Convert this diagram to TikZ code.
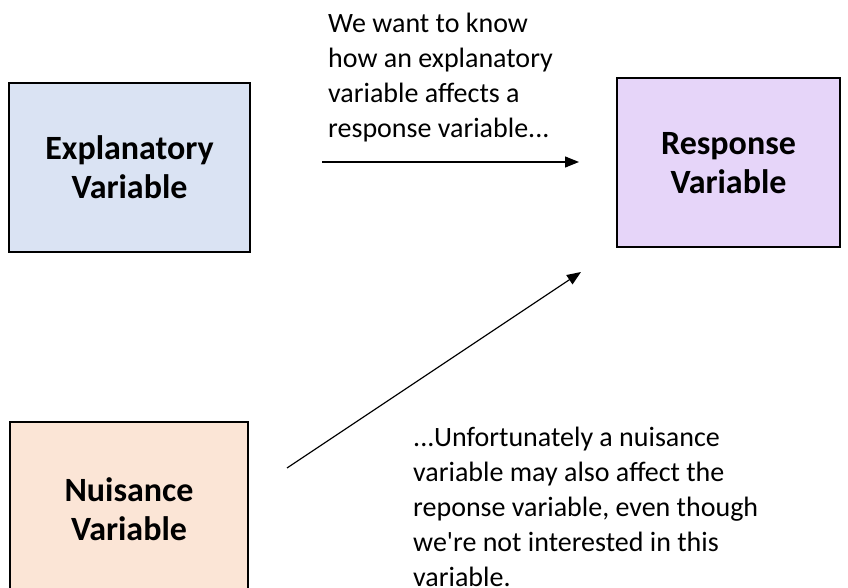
\documentclass[tikz,border=0pt]{standalone}
\usepackage{fontspec}
\setmainfont{Carlito}
\usetikzlibrary{arrows.meta}
\definecolor{explfill}{HTML}{DAE3F3}
\definecolor{respfill}{HTML}{E6D5F9}
\definecolor{nuisfill}{HTML}{FBE5D6}
\tikzset{
  boxline/.style={draw=black, line width=1.8pt},
  boxtext/.style={font=\fontsize{34}{39}\selectfont\bfseries, align=center},
  note/.style={font=\fontsize{28}{35}\selectfont, align=left, anchor=north west, inner sep=0pt},
  conn/.style={line width=1.2pt, -{Triangle[length=14pt,width=11pt]}}
}
\begin{document}
\begin{tikzpicture}[x=1pt,y=-1pt]
\useasboundingbox (0,0) rectangle (848,588);
\begin{scope}
\clip (0,0) rectangle (848,588);
\draw[boxline, fill=explfill] (9,83) rectangle (250,252);
\draw[boxline, fill=respfill] (617,78) rectangle (840,247);
\draw[boxline, fill=nuisfill] (10,422) rectangle (248,596);
\end{scope}
\node[boxtext] (expl) at (129.5,167) {Explanatory\\Variable};
\node[boxtext] (resp) at (728.5,163) {Response\\Variable};
\node[boxtext] (nuis) at (129,509) {Nuisance\\Variable};
\node[note] (n1) at (328,13) {We want to know\\how an explanatory\\variable affects a\\response variable...};
\node[note] (n2) at (413,427) {...Unfortunately a nuisance\\variable may also affect the\\reponse variable, even though\\we\textquotesingle re not interested in this\\variable.};
\coordinate (a1s) at (322,162);
\coordinate (a1e) at (579,162);
\coordinate (a2s) at (287,468);
\coordinate (a2e) at (581,272);
\draw[conn] (a1s) -- (a1e);
\draw[conn] (a2s) -- (a2e);
\end{tikzpicture}
\end{document}
